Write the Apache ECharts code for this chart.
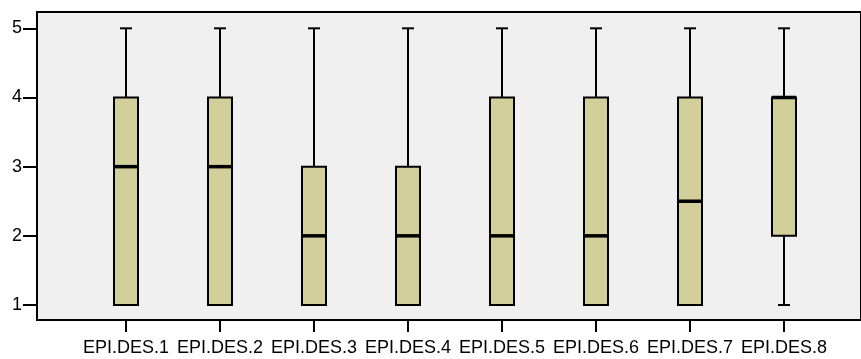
<!DOCTYPE html>
<html>
<head>
<meta charset="utf-8">
<script src="https://cdn.jsdelivr.net/npm/echarts@6/dist/echarts.min.js"></script>
<style>html,body{margin:0;padding:0;background:#fff;}#c{width:861px;height:359px;}</style>
</head>
<body>
<div id="c"></div>
<script>
var categories = ['EPI.DES.1','EPI.DES.2','EPI.DES.3','EPI.DES.4','EPI.DES.5','EPI.DES.6','EPI.DES.7','EPI.DES.8'];
var mins    = [1, 1, 1, 1, 1, 1, 1,   1];
var q1s     = [1, 1, 1, 1, 1, 1, 1,   2];
var medians = [3, 3, 2, 2, 2, 2, 2.5, 4];
var q3s     = [4, 4, 3, 3, 4, 4, 4,   4];
var maxs    = [5, 5, 5, 5, 5, 5, 5,   5];
var yTicks  = [1, 2, 3, 4, 5];

var data = categories.map(function (c, i) {
  return [i, mins[i], q1s[i], medians[i], q3s[i], maxs[i]];
});

var chart = echarts.init(document.getElementById('c'), null, {renderer: 'canvas'});
var font = 'Liberation Sans';
var yMin = 0.783, yMax = 5.236;

function renderItem(params, api) {
  var idx = api.value(0);
  var band = api.size([1, 0])[0];
  var bw = band * 24 / 94;
  var cw = band * 12 / 94;
  var pMin = api.coord([idx, api.value(1)]);
  var pQ1 = api.coord([idx, api.value(2)]);
  var pMed = api.coord([idx, api.value(3)]);
  var pQ3 = api.coord([idx, api.value(4)]);
  var pMax = api.coord([idx, api.value(5)]);
  var x = pMed[0];
  var lineStyle = {stroke: '#000', lineWidth: 2};
  return {
    type: 'group',
    children: [
      {type: 'line', shape: {x1: x, y1: pMax[1], x2: x, y2: pQ3[1]}, style: lineStyle},
      {type: 'line', shape: {x1: x - cw / 2, y1: pMax[1], x2: x + cw / 2, y2: pMax[1]}, style: lineStyle},
      {type: 'line', shape: {x1: x, y1: pMin[1], x2: x, y2: pQ1[1]}, style: lineStyle},
      {type: 'line', shape: {x1: x - cw / 2, y1: pMin[1], x2: x + cw / 2, y2: pMin[1]}, style: lineStyle},
      {type: 'rect', shape: {x: x - bw / 2, y: pQ3[1], width: bw, height: pQ1[1] - pQ3[1]},
        style: {fill: '#d3cf9b', stroke: '#000', lineWidth: 2}},
      {type: 'line', shape: {x1: x - bw / 2, y1: pMed[1], x2: x + bw / 2, y2: pMed[1]},
        style: {stroke: '#000', lineWidth: 3.5}}
    ]
  };
}

chart.setOption({
  animation: false,
  grid: [
    {left: 37, top: 12, width: 836, height: 308, show: true, backgroundColor: '#f0f0f0',
      borderColor: '#000', borderWidth: 2},
    {left: 79, top: 12, width: 752, height: 308}
  ],
  xAxis: [
    {gridIndex: 0, type: 'value', show: false, min: 0, max: 1},
    {gridIndex: 1, type: 'category', data: categories, boundaryGap: true,
      axisLine: {show: false},
      axisTick: {show: true, alignWithLabel: true, length: 12, lineStyle: {color: '#000', width: 2}},
      axisLabel: {interval: 0, margin: 19, color: '#000', fontSize: 18, fontFamily: font},
      splitLine: {show: false}}
  ],
  yAxis: [
    {gridIndex: 0, type: 'value', min: yMin, max: yMax,
      axisLine: {show: false},
      axisTick: {show: true, length: 14, customValues: yTicks, lineStyle: {color: '#000', width: 2}},
      axisLabel: {margin: 15, color: '#000', fontSize: 18, fontFamily: font, customValues: yTicks},
      splitLine: {show: false}},
    {gridIndex: 1, type: 'value', min: yMin, max: yMax, show: false, splitLine: {show: false}}
  ],
  series: [{
    type: 'custom',
    xAxisIndex: 1,
    yAxisIndex: 1,
    renderItem: renderItem,
    encode: {x: 0, y: [1, 2, 3, 4, 5]},
    data: data,
    clip: false
  }]
});
</script>
</body>
</html>
